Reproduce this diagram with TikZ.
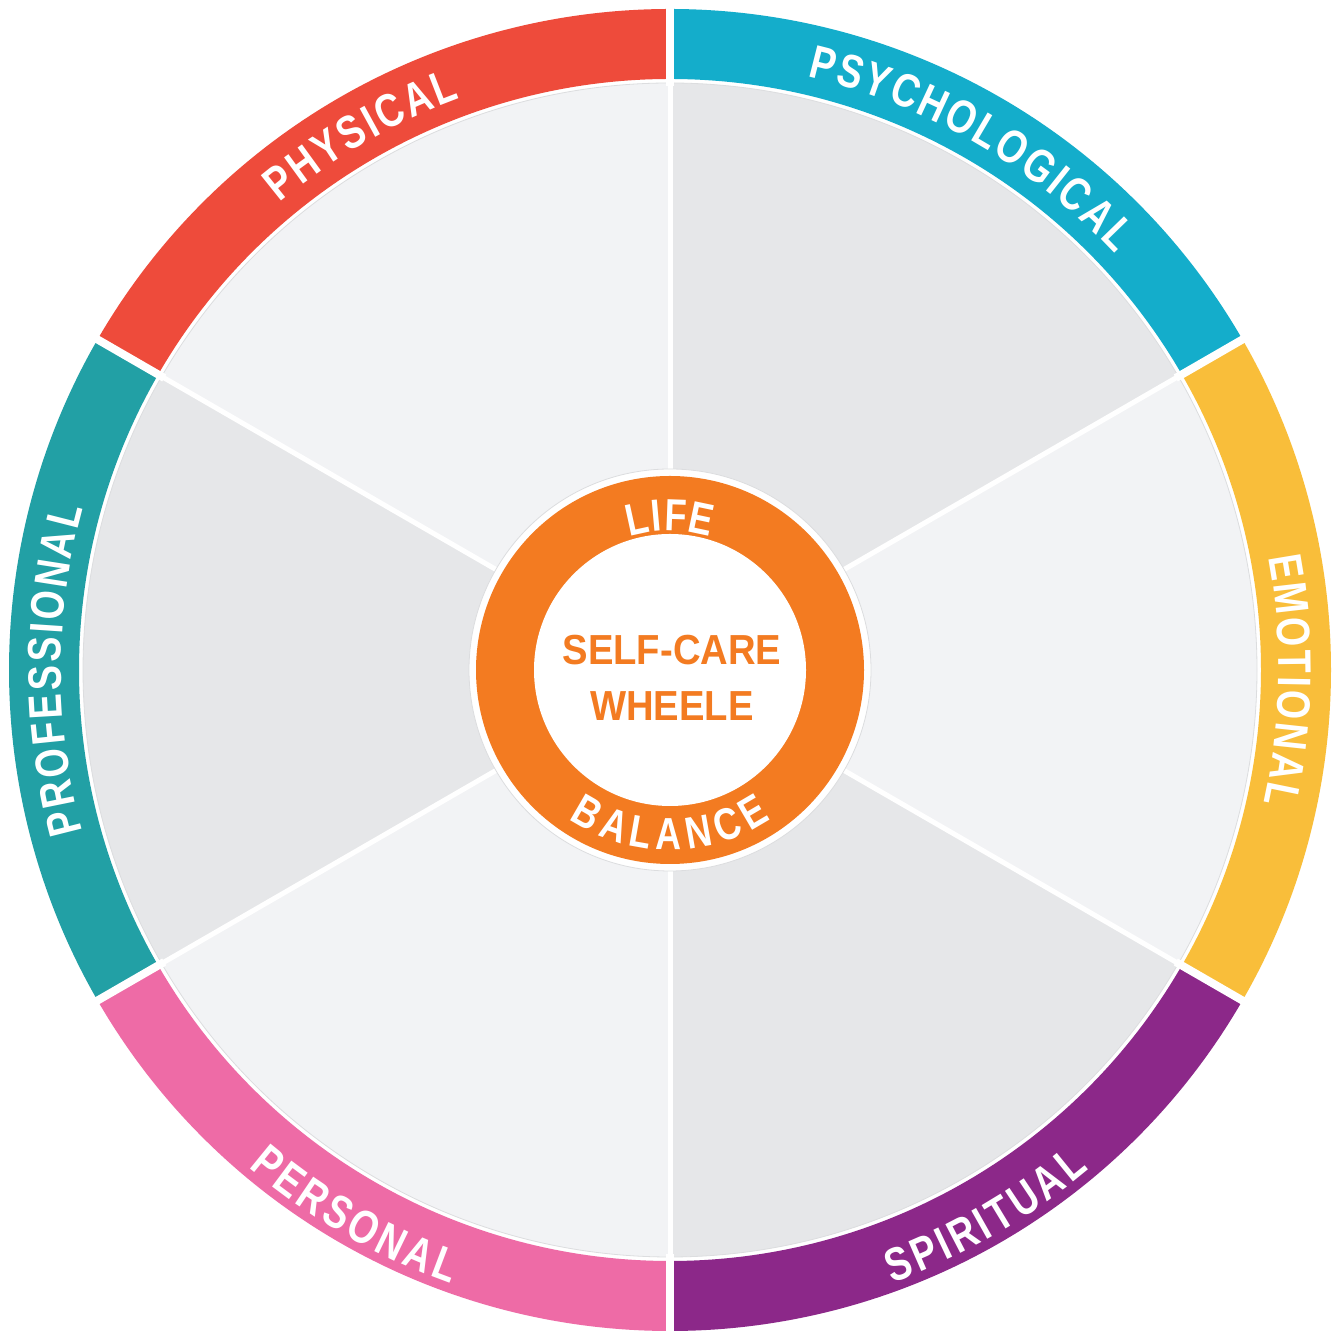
\documentclass[tikz,border=0pt]{standalone}
\usepackage{fontspec}

% Fonts: a slightly condensed bold grotesque for all lettering
\newfontfamily\lblfamily[FakeStretch=0.8]{Liberation Sans Bold}
\newfontfamily\ctrfamily[FakeStretch=0.91]{Liberation Sans Bold}
\newcommand\ringfont{\lblfamily\fontsize{47}{50}\selectfont}
\newcommand\hubfont{\lblfamily\fontsize{45}{48}\selectfont}
\newcommand\titlefont{\ctrfamily\fontsize{42}{46}\selectfont}

% Palette
\definecolor{physical}{HTML}{EE4B3B}
\definecolor{psychological}{HTML}{14ADCB}
\definecolor{emotional}{HTML}{F9BE3A}
\definecolor{spiritual}{HTML}{8C2889}
\definecolor{personal}{HTML}{EE6BA6}
\definecolor{professional}{HTML}{22A0A5}
\definecolor{sectorlight}{HTML}{F2F3F5}
\definecolor{sectordark}{HTML}{E6E7E9}
\definecolor{sectoredge}{HTML}{DCDDDF}
\definecolor{hub}{HTML}{F37B21}

% Width of one glyph, typeset outside the picture's null-font context
\newdimen\arcwd
\newdimen\arcch
\newsavebox\arcbox
\newcommand\glyphwidth[2]{%
  \pgfinterruptpicture
    \sbox\arcbox{#1#2}%
    \global\arcch=\wd\arcbox
  \endpgfinterruptpicture
}

% Letters set one by one along a circular arc.
% #1 node-name prefix, #2 layout radius, #3 baseline radius, #4 middle angle,
% #5 tracking (pt), #6 direction (1 = clockwise, tops outward; -1 = counter-clockwise, tops inward),
% #7 font, #8 comma-separated letters
\newcommand\arcword[8]{%
  \global\arcwd=0pt
  \foreach \ch in {#8}{%
    \glyphwidth{#7}{\ch}%
    \global\advance\arcwd by \arcch
    \global\advance\arcwd by #5pt
  }%
  \global\advance\arcwd by -#5pt
  \pgfmathsetmacro\arctmp{#4 + (#6)*0.5*\the\arcwd/#2*57.29578}%
  \xdef\arccur{\arctmp}%
  \foreach \ch [count=\i] in {#8}{%
    \glyphwidth{#7}{\ch}%
    \pgfmathsetmacro\arcmid{\arccur - (#6)*0.5*\the\arcch/#2*57.29578}%
    \node[letter, font=#7, rotate={\arcmid-(#6)*90}] (#1-\i) at (\arcmid:#3pt) {\ch};
    \pgfmathsetmacro\arctmp{\arccur - (#6)*(\the\arcch + #5pt)/#2*57.29578}%
    \xdef\arccur{\arctmp}%
  }%
}

\tikzset{
  letter/.style={anchor=base, inner sep=0pt, outer sep=0pt, text=white},
  title/.style={anchor=base, inner sep=0pt, text=hub, font=\titlefont},
}

\begin{document}
\begin{tikzpicture}
\useasboundingbox (0,0) rectangle (1338pt,1332pt);
\fill[white] (0,0) rectangle (1338pt,1332pt);

\begin{scope}[shift={(670pt,662pt)}]
  \coordinate (hubcentre) at (0,0);

  % coloured outer band and the six grey sectors
  \foreach \a/\b/\band/\sect in {90/150/physical/sectorlight,
                                 30/90/psychological/sectordark,
                                 -30/30/emotional/sectorlight,
                                 -90/-30/spiritual/sectordark,
                                 210/270/personal/sectorlight,
                                 150/210/professional/sectordark}{
    \fill[\band] (\a:591pt) arc[start angle=\a, end angle=\b, radius=591pt]
      -- (\b:661pt) arc[start angle=\b, end angle=\a, radius=661pt] -- cycle;
    \filldraw[fill=\sect, draw=sectoredge, line width=0.8pt] (0,0) -- (\a:587pt)
      arc[start angle=\a, end angle=\b, radius=587pt] -- cycle;
  }

  % white gaps between sectors and between band segments
  \foreach \a in {90,30,-30,-90,-150,150}{
    \draw[white, line width=5pt] (0,0) -- (\a:589pt);
    \draw[white, line width=8pt] (\a:584pt) -- (\a:670pt);
  }

  % central hub
  \filldraw[fill=white, draw=sectoredge, line width=0.8pt] (0,0) circle[radius=201pt];
  \fill[hub] (0,0) circle[radius=194pt];
  \fill[white] (0,0) circle[radius=136pt];

  \node[title] (selfcare) at (2pt,5pt) {SELF-CARE};
  \node[title] (wheele) at (2pt,-51pt) {WHEELE};

  \arcword{life}{155}{139}{90}{3.5}{1}{\hubfont}{L,I,F,E}
  \arcword{balance}{163}{180}{270}{3.5}{-1}{\hubfont}{B,A,L,A,N,C,E}

  % band labels
  \arcword{physical}{626}{609}{120}{3.5}{1}{\ringfont}{P,H,Y,S,I,C,A,L}
  \arcword{psychological}{626}{609}{60}{3.5}{1}{\ringfont}{P,S,Y,C,H,O,L,O,G,I,C,A,L}
  \arcword{emotional}{626}{609}{-1}{3.5}{1}{\ringfont}{E,M,O,T,I,O,N,A,L}
  \arcword{professional}{626}{609}{180}{3.5}{1}{\ringfont}{P,R,O,F,E,S,S,I,O,N,A,L}
  \arcword{spiritual}{636}{652}{300}{3.2}{-1}{\ringfont}{S,P,I,R,I,T,U,A,L}
  \arcword{personal}{636}{652}{240}{3}{-1}{\ringfont}{P,E,R,S,O,N,A,L}
\end{scope}
\end{tikzpicture}
\end{document}
